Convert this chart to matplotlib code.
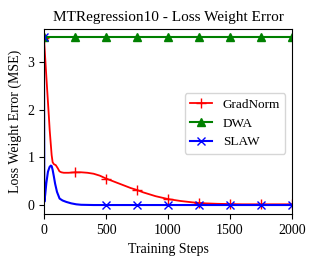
import matplotlib
matplotlib.use("Agg")
import matplotlib.pyplot as plt
import numpy as np

# values
gn_steps = [0, 10, 20, 30, 40, 46, 55, 62, 70, 80, 95, 110, 125, 140, 160, 200, 250, 300,
            350, 400, 450, 500, 550, 600, 650, 700, 750, 800, 850, 900, 950, 1000, 1050,
            1100, 1150, 1200, 1250, 1300, 1400, 1500, 1600, 1750, 1900, 2000]
gn_err = [3.5, 3.08, 2.66, 2.25, 1.84, 1.58, 1.28, 1.05, 0.9, 0.86, 0.84, 0.78, 0.71, 0.69,
          0.68, 0.68, 0.69, 0.69, 0.68, 0.66, 0.62, 0.56, 0.51, 0.46, 0.41, 0.36, 0.32, 0.27,
          0.23, 0.19, 0.16, 0.13, 0.11, 0.09, 0.075, 0.06, 0.05, 0.04, 0.03, 0.025, 0.02,
          0.02, 0.02, 0.02]

dwa_steps = [0, 250, 500, 750, 1000, 1250, 1500, 1750, 2000]
dwa_err = [3.52, 3.52, 3.52, 3.52, 3.52, 3.52, 3.52, 3.52, 3.52]

slaw_steps = [0, 3, 10, 19, 32, 45, 55, 62, 70, 80, 90, 105, 126, 150, 180, 220, 260, 300,
              400, 500, 750, 1000, 1250, 1500, 1750, 2000]
slaw_err = [3.52, 0.07, 0.22, 0.46, 0.7, 0.8, 0.83, 0.82, 0.74, 0.6, 0.45, 0.28, 0.14, 0.1,
            0.07, 0.04, 0.02, 0.01, 0.005, 0.005, 0.005, 0.005, 0.005, 0.005, 0.005, 0.005]

mark_at = [0, 250, 500, 750, 1000, 1250, 1500, 1750, 2000]


def mark_idx(steps):
    return [i for i, s in enumerate(steps) if s in mark_at]


plt.rcParams["font.family"] = ["Liberation Serif", "DejaVu Serif"]

fig, ax = plt.subplots(figsize=(3.14, 2.63), dpi=100)
ax.plot(gn_steps, gn_err, color="red", marker="+", markersize=7, lw=1.3,
        markevery=mark_idx(gn_steps), label="GradNorm")
ax.plot(dwa_steps, dwa_err, color="green", marker="^", markersize=6, lw=1.5,
        label="DWA")
ax.plot(slaw_steps, slaw_err, color="blue", marker="x", markersize=6, lw=1.5,
        markevery=mark_idx(slaw_steps), label="SLAW")

ax.set_xlim(0, 2000)
ax.set_ylim(-0.19, 3.69)
ax.set_xticks([0, 500, 1000, 1500, 2000])
ax.set_yticks([0, 1, 2, 3])
ax.tick_params(labelsize=10)
ax.set_xlabel("Training Steps", fontsize=10)
ax.set_ylabel("Loss Weight Error (MSE)", fontsize=10)
ax.set_title("MTRegression10 - Loss Weight Error", fontsize=11)
ax.legend(loc="center right", fontsize=9.5, handlelength=1.7, bbox_to_anchor=(1.0, 0.49))

fig.subplots_adjust(left=0.14, right=0.93, top=0.89, bottom=0.185)
fig.savefig("out.png", dpi=100)
